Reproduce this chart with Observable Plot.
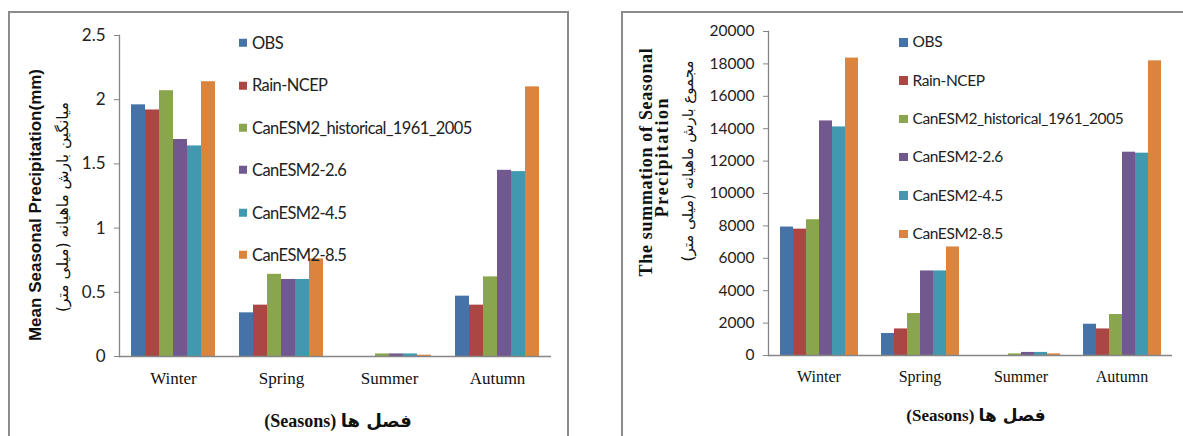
<!DOCTYPE html>
<html>
<head>
<meta charset="utf-8">
<script src="https://cdn.jsdelivr.net/npm/d3@7"></script>
<script src="https://cdn.jsdelivr.net/npm/@observablehq/plot@0.6"></script>
<style>
  html, body { margin: 0; padding: 0; background: #fff; }
  #page { position: relative; width: 1183px; height: 436px; overflow: hidden; background: #fff; }
  .panel { position: absolute; box-sizing: border-box; border: 2px solid #8c8c8c; }
  .plotbox { position: absolute; top: 0; }
  .legend-item { position: absolute; white-space: nowrap; color: #222; font-family: Lato, "Open Sans", sans-serif; }
  .legend-item .sw { position: absolute; top: 50%; transform: translateY(-50%); }
  .rot { position: absolute; white-space: nowrap; transform: translate(-50%, -50%) rotate(-90deg); transform-origin: center; color: #111; }
  .xtitle { position: absolute; white-space: nowrap; transform: translate(-50%, -50%);
    font-family: "Liberation Serif", "Times New Roman", serif; font-weight: bold; color: #111; }
  .fa { font-family: "DejaVu Sans", sans-serif; }
</style>
</head>
<body>
<div id="page"></div>
<script>
// Seasons and the six precipitation series
const seasons = ["Winter", "Spring", "Summer", "Autumn"];
const seriesNames = ["OBS", "Rain-NCEP", "CanESM2_historical_1961_2005", "CanESM2-2.6", "CanESM2-4.5", "CanESM2-8.5"];
const seriesColors = ["#4572A7", "#AA4643", "#89A54E", "#71588F", "#4198AF", "#DB843D"];

// Mean seasonal precipitation (mm), per series, in season order
const meanOBS = [1.96, 0.34, 0, 0.47];
const meanRain = [1.92, 0.40, 0, 0.40];
const meanHist = [2.07, 0.64, 0.02, 0.62];
const mean26 = [1.69, 0.60, 0.02, 1.45];
const mean45 = [1.64, 0.60, 0.02, 1.44];
const mean85 = [2.14, 0.76, 0.01, 2.10];

// Summation of seasonal precipitation (mm), per series, in season order
const sumOBS = [7930, 1360, 0, 1930];
const sumRain = [7800, 1640, 0, 1640];
const sumHist = [8380, 2590, 100, 2530];
const sum26 = [14480, 5220, 190, 12550];
const sum45 = [14110, 5220, 190, 12490];
const sum85 = [18360, 6700, 100, 18190];

// Axis ticks
const meanTicks = [0, 0.5, 1, 1.5, 2, 2.5];
const meanTickLabels = ["0", "0.5", "1", "1.5", "2", "2.5"];
const sumTicks = [0, 2000, 4000, 6000, 8000, 10000, 12000, 14000, 16000, 18000, 20000];
const sumTickLabels = ["0", "2000", "4000", "6000", "8000", "10000", "12000", "14000", "16000", "18000", "20000"];

const sans = 'Lato, "Open Sans", sans-serif';
const serif = '"Liberation Serif", "Times New Roman", serif';

function toRows(seriesValues) {
  const rows = [];
  seriesValues.forEach((vals, i) => {
    vals.forEach((v, j) => rows.push({season: seasons[j], series: seriesNames[i], value: v}));
  });
  return rows;
}

function barChart({rows, ticks, tickLabels, yMax, width, height, margin, tickFontSize, xFontSize}) {
  return Plot.plot({
    width, height,
    marginLeft: margin.left, marginRight: margin.right,
    marginTop: margin.top, marginBottom: margin.bottom,
    style: {background: "transparent", overflow: "visible"},
    fx: {domain: seasons, paddingInner: 0, paddingOuter: 0},
    x: {domain: seriesNames, paddingInner: 0, paddingOuter: 0.774, axis: null},
    y: {domain: [0, yMax]},
    color: {domain: seriesNames, range: seriesColors},
    marks: [
      Plot.barY(rows, {fx: "season", x: "series", y1: 0, y2: "value", fill: "series"}),
      Plot.ruleY([0], {stroke: "#868686", strokeWidth: 1.3}),
      Plot.frame({anchor: "left", facetAnchor: "left", stroke: "#868686", strokeWidth: 1.3}),
      Plot.axisY({
        ticks, tickFormat: d => tickLabels[ticks.indexOf(d)],
        tickSize: 5, tickPadding: 9, label: null,
        stroke: "#868686", fill: "#222",
        fontSize: tickFontSize, fontFamily: sans
      }),
      Plot.axisFx({
        anchor: "bottom", tickSize: 0, tickPadding: 15, label: null,
        fill: "#111", fontSize: xFontSize, fontFamily: serif
      })
    ]
  });
}

const page = document.getElementById("page");

function addEl(cls, css, html) {
  const el = document.createElement("div");
  el.className = cls;
  Object.assign(el.style, css);
  if (html !== undefined) el.innerHTML = html;
  page.appendChild(el);
  return el;
}

function addLegend({left, top, step, swatch, fontSize, tracking}) {
  seriesNames.forEach((name, i) => {
    const item = addEl("legend-item", {
      left: left + "px", top: (top + i * step) + "px",
      fontSize: fontSize + "px", lineHeight: "1", transform: "translateY(-50%)",
      letterSpacing: tracking + "px",
      paddingLeft: (swatch + 5) + "px"
    });
    const sw = document.createElement("span");
    sw.className = "sw";
    Object.assign(sw.style, {left: "0px", width: swatch + "px", height: swatch + "px", background: seriesColors[i]});
    item.appendChild(sw);
    item.appendChild(document.createTextNode(name));
  });
}

// Panel frames
addEl("panel", {left: "8px", top: "11px", width: "561px", height: "440px"});
addEl("panel", {left: "621px", top: "11px", width: "600px", height: "440px"});

// Left chart: mean seasonal precipitation
const left = barChart({
  rows: toRows([meanOBS, meanRain, meanHist, mean26, mean45, mean85]),
  ticks: meanTicks, tickLabels: meanTickLabels, yMax: 2.5,
  width: 580, height: 436,
  margin: {left: 118, right: 29, top: 35, bottom: 80},
  tickFontSize: 17, xFontSize: 17
});
const lbox = addEl("plotbox", {left: "0px"});
lbox.appendChild(left);

// Right chart: summation of seasonal precipitation
const right = barChart({
  rows: toRows([sumOBS, sumRain, sumHist, sum26, sum45, sum85]),
  ticks: sumTicks, tickLabels: sumTickLabels, yMax: 20000,
  width: 583, height: 436,
  margin: {left: 166, right: 10, top: 31, bottom: 81},
  tickFontSize: 15.5, xFontSize: 16
});
const rbox = addEl("plotbox", {left: "600px"});
rbox.appendChild(right);

// Legends
addLegend({left: 239, top: 43, step: 42.4, swatch: 8, fontSize: 16.5, tracking: -0.6});
addLegend({left: 899, top: 42.3, step: 38.3, swatch: 8.5, fontSize: 15.5, tracking: -0.4});

// Left axis titles
addEl("rot", {left: "36px", top: "205px", fontFamily: '"Liberation Sans", Arial, sans-serif', fontWeight: "bold", fontSize: "17px"},
  "Mean Seasonal Precipitation(mm)");
addEl("rot fa", {left: "63px", top: "207px", fontSize: "15.5px", direction: "rtl"},
  "میانگین بارش ماهیانه (میلی متر)");
addEl("xtitle", {left: "338px", top: "421px", fontSize: "18px"},
  '(Seasons) <span class="fa" style="font-weight:bold">فصل ها</span>');

// Right axis titles
addEl("rot", {left: "646px", top: "162px", fontFamily: serif, fontWeight: "bold", fontSize: "18px", letterSpacing: "0.7px"},
  "The summation of Seasonal");
addEl("rot", {left: "662px", top: "157px", fontFamily: serif, fontWeight: "bold", fontSize: "18px", letterSpacing: "1.6px"},
  "Precipitation");
addEl("rot fa", {left: "688px", top: "161px", fontSize: "15px", direction: "rtl"},
  "مجموع بارش ماهیانه (میلی متر)");
addEl("xtitle", {left: "976px", top: "415px", fontSize: "17px"},
  '(Seasons) <span class="fa" style="font-weight:bold">فصل ها</span>');
</script>
</body>
</html>
